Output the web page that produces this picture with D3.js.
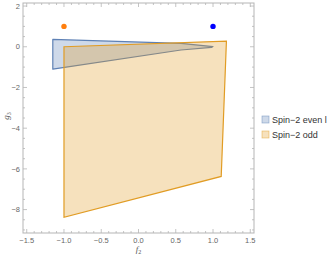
<!DOCTYPE html>
<html>
<head>
<meta charset="utf-8">
<script src="https://cdn.jsdelivr.net/npm/d3@7"></script>
<style>
  html, body { margin: 0; padding: 0; background: #fff; }
  svg { display: block; font-family: "Liberation Sans", Arial, sans-serif; }
</style>
</head>
<body>
<div id="chart"></div>
<script>
// region outlines, in (f2, g3)
const evenF2 = [-1.15, 0.57, 1.0, 0.98, 0.57, -1.15];
const evenG3 = [0.36, 0.17, 0.01, -0.03, -0.16, -1.1];
const oddF2 = [-1.0, 1.18, 1.11, -1.0];
const oddG3 = [0.0, 0.28, -6.37, -8.38];
const pointF2 = [-1, 1];
const pointG3 = [1, 1];
const legendLabels = ['Spin\u22122 even l', 'Spin\u22122 odd'];
const xTicks = [-1.5, -1.0, -0.5, 0.0, 0.5, 1.0, 1.5];
const yTicks = [2, 0, -2, -4, -6, -8];

const width = 332, height = 258;
const mLeft = 23, mRight = 254, mTop = 3, mBottom = 233;

const svg = d3.select('#chart').append('svg')
  .attr('width', width)
  .attr('height', height);

const x = d3.scaleLinear().domain([-1.55, 1.55]).range([mLeft, mRight]);
const y = d3.scaleLinear().domain([-9.15, 2.15]).range([mBottom, mTop]);

const blue = '#5e81b5', orange = '#e19c24';
const line = d3.line().x(d => x(d[0])).y(d => y(d[1]));

const evenPts = evenF2.map((v, i) => [v, evenG3[i]]);
const oddPts = oddF2.map((v, i) => [v, oddG3[i]]);

svg.append('path')
  .attr('d', line(evenPts) + 'Z')
  .attr('fill', blue).attr('fill-opacity', 0.3)
  .attr('stroke', blue).attr('stroke-width', 1.2)
  .attr('stroke-linejoin', 'round');

svg.append('path')
  .attr('d', line(oddPts) + 'Z')
  .attr('fill', orange).attr('fill-opacity', 0.3)
  .attr('stroke', orange).attr('stroke-width', 1.2);

svg.selectAll('circle.pt')
  .data(pointF2)
  .join('circle')
  .attr('class', 'pt')
  .attr('cx', d => x(d))
  .attr('cy', (d, i) => y(pointG3[i]))
  .attr('r', 2.7)
  .attr('fill', (d, i) => i === 0 ? '#ff7f0e' : '#0000ff');

// frame
const frameColor = '#b5b5b5';
svg.append('rect')
  .attr('x', mLeft).attr('y', mTop)
  .attr('width', mRight - mLeft).attr('height', mBottom - mTop)
  .attr('fill', 'none').attr('stroke', frameColor).attr('stroke-width', 1);

const g = svg.append('g').attr('stroke', frameColor).attr('stroke-width', 0.8);
const xMinor = d3.range(-15, 16).map(d => d / 10);
const yMinor = d3.range(-18, 5).map(d => d / 2);

xMinor.forEach(v => {
  const major = Math.abs(v * 2 - Math.round(v * 2)) < 1e-6;
  const len = major ? 4 : 2;
  g.append('line').attr('x1', x(v)).attr('x2', x(v)).attr('y1', mBottom).attr('y2', mBottom - len);
  g.append('line').attr('x1', x(v)).attr('x2', x(v)).attr('y1', mTop).attr('y2', mTop + len);
});
yMinor.forEach(v => {
  const major = Math.abs(v / 2 - Math.round(v / 2)) < 1e-6;
  const len = major ? 4 : 2;
  g.append('line').attr('y1', y(v)).attr('y2', y(v)).attr('x1', mLeft).attr('x2', mLeft + len);
  g.append('line').attr('y1', y(v)).attr('y2', y(v)).attr('x1', mRight).attr('x2', mRight - len);
});

const fmt = v => (v < 0 ? '\u2212' : '') + Math.abs(v).toFixed(1);
svg.selectAll('text.xt')
  .data(xTicks)
  .join('text')
  .attr('class', 'xt')
  .attr('x', d => x(d))
  .attr('y', mBottom + 10)
  .attr('text-anchor', 'middle')
  .attr('font-size', 7.5)
  .attr('fill', '#666')
  .text(fmt);

svg.selectAll('text.yt')
  .data(yTicks)
  .join('text')
  .attr('class', 'yt')
  .attr('x', mLeft - 3)
  .attr('y', d => y(d) + 2.7)
  .attr('text-anchor', 'end')
  .attr('font-size', 7.5)
  .attr('fill', '#666')
  .text(d => (d < 0 ? '\u2212' : '') + Math.abs(d));

// axis labels
const xl = svg.append('text')
  .attr('x', x(0))
  .attr('y', 252)
  .attr('text-anchor', 'middle')
  .attr('font-size', 9)
  .attr('fill', '#555')
  .attr('font-family', '"Liberation Serif", serif');
xl.append('tspan').attr('font-style', 'italic').text('f');
xl.append('tspan').attr('font-size', 6).attr('dy', 2).text('2');

const yl = svg.append('text')
  .attr('transform', `translate(9, ${y(-3.4)}) rotate(-90)`)
  .attr('text-anchor', 'middle')
  .attr('font-size', 9)
  .attr('fill', '#555')
  .attr('font-family', '"Liberation Serif", serif');
yl.append('tspan').attr('font-style', 'italic').text('g');
yl.append('tspan').attr('font-size', 6).attr('dy', 2).text('3');

// legend
const legendColors = [blue, orange];
const lg = svg.selectAll('g.leg')
  .data(legendLabels)
  .join('g')
  .attr('class', 'leg')
  .attr('transform', (d, i) => `translate(262, ${116 + i * 15})`);
lg.append('rect')
  .attr('width', 7).attr('height', 7)
  .attr('fill', (d, i) => legendColors[i]).attr('fill-opacity', 0.3)
  .attr('stroke', (d, i) => legendColors[i]).attr('stroke-opacity', 0.6)
  .attr('stroke-width', 0.7);
lg.append('text')
  .attr('x', 10).attr('y', 7)
  .attr('font-size', 9)
  .attr('fill', '#333')
  .text(d => d);
</script>
</body>
</html>
